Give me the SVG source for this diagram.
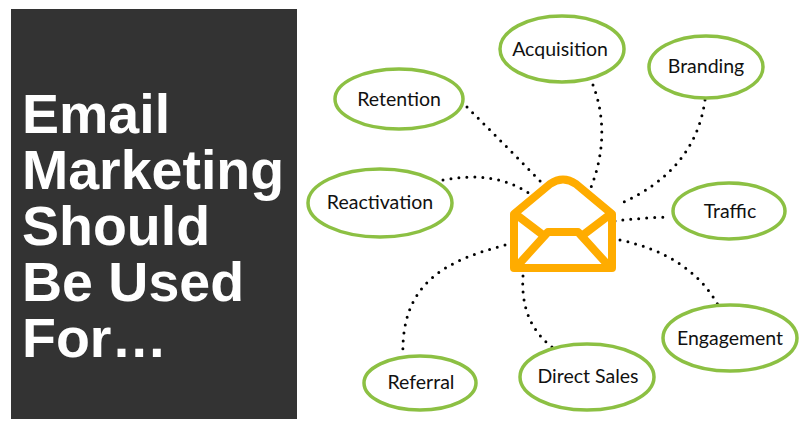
<svg xmlns="http://www.w3.org/2000/svg" width="811" height="432" viewBox="0 0 811 432">
<style>
.node ellipse{fill:#fff;stroke:#8cc043;stroke-width:3.5}
.node text{font-family:Lato,"Open Sans",sans-serif;font-size:19.5px;fill:#111;text-anchor:middle}
.conn path{fill:none;stroke:#000;stroke-width:3;stroke-linecap:round;stroke-dasharray:0 8}
.title{font-family:"Liberation Sans",Arial,sans-serif;font-weight:bold;font-size:55.5px;fill:#fff}
.env{fill:none;stroke:#ffac00;stroke-width:8;stroke-linejoin:round;stroke-linecap:round}
</style>
<rect width="811" height="432" fill="#fff"/>
<g id="title-panel">
<rect x="11" y="9" width="286" height="410" fill="#333333"/>
<text class="title" x="22" y="133">Email</text>
<text class="title" x="22" y="189">Marketing</text>
<text class="title" x="22" y="245">Should</text>
<text class="title" x="22" y="301">Be Used</text>
<text class="title" x="22" y="357">For…</text>
</g>
<g id="connectors" class="conn">
<path d="M467,107 Q505,145 543,184"/>
<path d="M593,85 Q612,135 590,190"/>
<path d="M705,100 Q695,172 617,205"/>
<path d="M443,180 Q495,170 530,194"/>
<path d="M615,221 Q640,218 666,217"/>
<path d="M620,240 Q690,255 718,305"/>
<path d="M523,276 Q520,322 552,347"/>
<path d="M505,245 C450,260 400,280 403,357"/>
</g>
<g id="envelope" class="env">
<path d="M514,214 L550,184 Q563,175 576,184 L612,214 L612,268 L514,268 Z"/>
<path d="M518,216 L543,235 M608,216 L583,235"/>
<path d="M519,264 L548,232 L578,232 L607,264"/>
</g>
<g id="acquisition" class="node"><ellipse cx="562" cy="49" rx="62" ry="33"/><text x="560" y="56">Acquisition</text></g>
<g id="branding" class="node"><ellipse cx="706" cy="67" rx="57" ry="31"/><text x="706" y="73">Branding</text></g>
<g id="retention" class="node"><ellipse cx="399" cy="99" rx="64" ry="30"/><text x="399" y="106">Retention</text></g>
<g id="reactivation" class="node"><ellipse cx="380" cy="203" rx="72" ry="34"/><text x="380" y="209">Reactivation</text></g>
<g id="traffic" class="node"><ellipse cx="729" cy="211" rx="56" ry="28"/><text x="730" y="218">Traffic</text></g>
<g id="engagement" class="node"><ellipse cx="730" cy="338" rx="67" ry="33"/><text x="730" y="345">Engagement</text></g>
<g id="direct-sales" class="node"><ellipse cx="587" cy="377" rx="67" ry="33"/><text x="588" y="383">Direct Sales</text></g>
<g id="referral" class="node"><ellipse cx="420" cy="383" rx="56" ry="27"/><text x="421" y="389">Referral</text></g>
</svg>
